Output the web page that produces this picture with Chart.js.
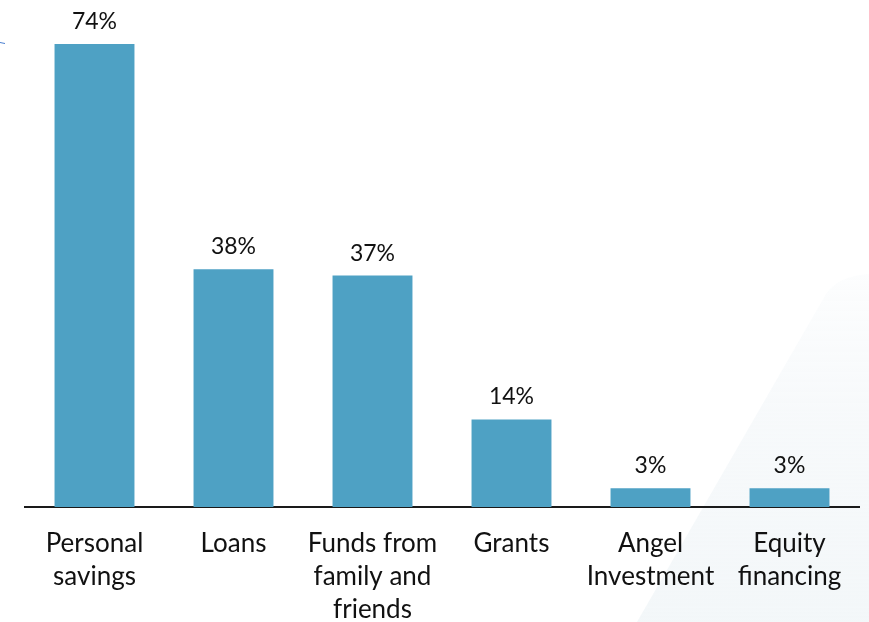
<!DOCTYPE html>
<html>
<head>
  <title>Sources of startup funding</title>
  <style>
    body {
      margin: 0;
      background: #ffffff;
      overflow: hidden;
    }
    #chart-wrap {
      width: 869px;
      height: 622px;
    }
  </style>
</head>
<body>
  <div id="chart-wrap">
    <canvas id="funding-chart" width="869" height="622"></canvas>
  </div>
  <script src="https://cdn.jsdelivr.net/npm/chart.js"></script>
  <script>
    // Funding sources and share of respondents (%)
    const categories = [
      ["Personal", "savings"],
      ["Loans"],
      ["Funds from", "family and", "friends"],
      ["Grants"],
      ["Angel", "Investment"],
      ["Equity", "financing"]
    ];
    const shares = [74, 38, 37, 14, 3, 3];

    const FONT = "Lato, 'Open Sans', sans-serif";

    // faint diagonal panel in the lower right and the little stroke at top left
    const backdrop = {
      id: "backdrop",
      beforeDraw(chart) {
        const ctx = chart.ctx;
        ctx.save();
        const grad = ctx.createLinearGradient(0, 270, 0, 622);
        grad.addColorStop(0, "rgba(246,249,251,0.3)");
        grad.addColorStop(0.4, "rgba(245,248,250,0.8)");
        grad.addColorStop(1, "rgba(243,247,249,1)");
        ctx.fillStyle = grad;
        ctx.beginPath();
        ctx.moveTo(637, 622);
        ctx.lineTo(826, 294);
        ctx.quadraticCurveTo(838, 276, 869, 274);
        ctx.lineTo(869, 622);
        ctx.closePath();
        ctx.fill();

        ctx.strokeStyle = "#4a7fd0";
        ctx.lineWidth = 1;
        ctx.beginPath();
        ctx.moveTo(0, 42.5);
        ctx.lineTo(5, 43.5);
        ctx.stroke();
        ctx.restore();
      }
    };

    // percentage labels above each bar
    const valueLabels = {
      id: "valueLabels",
      afterDatasetsDraw(chart) {
        const ctx = chart.ctx;
        const meta = chart.getDatasetMeta(0);
        ctx.save();
        ctx.font = "23px " + FONT;
        ctx.fillStyle = "#111111";
        ctx.textAlign = "center";
        ctx.textBaseline = "alphabetic";
        meta.data.forEach((bar, i) => {
          ctx.fillText(shares[i] + "%", bar.x, bar.y - 15);
        });
        ctx.restore();
      }
    };

    const chart = new Chart(document.getElementById("funding-chart"), {
      type: "bar",
      data: {
        labels: categories,
        datasets: [{
          data: shares,
          backgroundColor: "#4ea1c4",
          borderWidth: 0,
          categoryPercentage: 1,
          barPercentage: 0.575
        }]
      },
      options: {
        responsive: false,
        animation: false,
        layout: {
          padding: { top: 44, left: 25, right: 10, bottom: 0 }
        },
        plugins: {
          legend: { display: false },
          tooltip: { enabled: false }
        },
        scales: {
          x: {
            afterFit(scale) {
              scale.height = 115;
            },
            grid: { display: false, drawTicks: false },
            border: { display: true, color: "#1a1a1a", width: 2 },
            ticks: {
              color: "#111111",
              font: { family: FONT, size: 26, lineHeight: 1.27 },
              padding: 20,
              maxRotation: 0,
              minRotation: 0,
              autoSkip: false
            }
          },
          y: {
            display: false,
            min: 0,
            max: 74
          }
        }
      },
      plugins: [backdrop, valueLabels]
    });
  </script>
</body>
</html>
